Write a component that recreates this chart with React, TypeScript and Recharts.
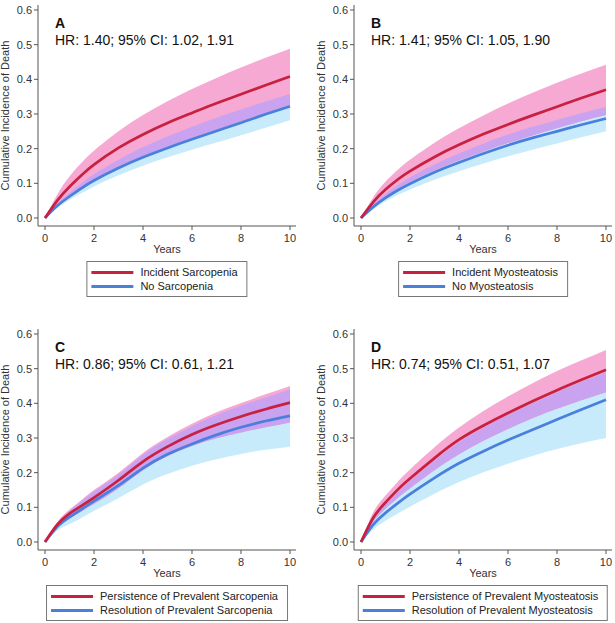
import React from "react";
import { ComposedChart, Area, Line, XAxis, YAxis, Label } from "recharts";

const FONT = '"Liberation Sans", Arial, sans-serif';
const RED = "#c8203f";
const BLUE = "#4a7fdc";
const PINK_BAND = "#f5a9d3";
const BLUE_BAND = "#c7ebfb";
const OVERLAP_BAND = "#c9a3ef";
const CURVE = "natural";

const YEARS = [0, 0.5, 1, 1.5, 2, 3, 4, 5, 6, 7, 8, 9, 10];
const X_TICKS = [0, 2, 4, 6, 8, 10];
const Y_TICKS = [0, 0.1, 0.2, 0.3, 0.4, 0.5, 0.6];

// A: incident sarcopenia
const A_RED = [0, 0.05, 0.09, 0.124, 0.154, 0.202, 0.241, 0.274, 0.303, 0.331, 0.357, 0.383, 0.408];
const A_RED_HI = [0, 0.068, 0.12, 0.16, 0.194, 0.25, 0.297, 0.337, 0.372, 0.404, 0.434, 0.462, 0.488];
const A_RED_LO = [0, 0.036, 0.064, 0.088, 0.11, 0.147, 0.178, 0.205, 0.23, 0.254, 0.278, 0.302, 0.325];
const A_BLUE = [0, 0.035, 0.062, 0.086, 0.108, 0.144, 0.175, 0.202, 0.227, 0.251, 0.275, 0.299, 0.322];
const A_BLUE_HI = [0, 0.041, 0.073, 0.101, 0.126, 0.168, 0.204, 0.235, 0.263, 0.289, 0.313, 0.336, 0.358];
const A_BLUE_LO = [0, 0.029, 0.052, 0.072, 0.091, 0.123, 0.151, 0.175, 0.197, 0.218, 0.239, 0.26, 0.282];

// B: incident myosteatosis
const B_RED = [0, 0.046, 0.082, 0.111, 0.135, 0.176, 0.211, 0.242, 0.27, 0.296, 0.321, 0.346, 0.37];
const B_RED_HI = [0, 0.06, 0.105, 0.139, 0.168, 0.217, 0.259, 0.296, 0.33, 0.361, 0.39, 0.417, 0.442];
const B_RED_LO = [0, 0.034, 0.061, 0.084, 0.104, 0.137, 0.166, 0.192, 0.216, 0.238, 0.259, 0.279, 0.297];
const B_BLUE = [0, 0.032, 0.058, 0.08, 0.099, 0.132, 0.16, 0.186, 0.21, 0.231, 0.25, 0.269, 0.287];
const B_BLUE_HI = [0, 0.038, 0.07, 0.095, 0.117, 0.154, 0.186, 0.215, 0.241, 0.263, 0.283, 0.302, 0.32];
const B_BLUE_LO = [0, 0.026, 0.048, 0.066, 0.082, 0.11, 0.135, 0.157, 0.178, 0.197, 0.215, 0.233, 0.25];

// C: prevalent sarcopenia
const C_RED = [0, 0.05, 0.082, 0.105, 0.128, 0.178, 0.232, 0.275, 0.31, 0.338, 0.362, 0.383, 0.402];
const C_RED_HI = [0, 0.058, 0.094, 0.122, 0.15, 0.2, 0.257, 0.303, 0.341, 0.374, 0.401, 0.426, 0.45];
const C_RED_LO = [0, 0.041, 0.068, 0.089, 0.11, 0.155, 0.207, 0.248, 0.277, 0.299, 0.316, 0.331, 0.345];
const C_BLUE = [0, 0.044, 0.072, 0.095, 0.118, 0.163, 0.213, 0.253, 0.283, 0.309, 0.331, 0.349, 0.364];
const C_BLUE_HI = [0, 0.055, 0.09, 0.118, 0.146, 0.195, 0.252, 0.297, 0.334, 0.366, 0.393, 0.417, 0.44];
const C_BLUE_LO = [0, 0.033, 0.052, 0.07, 0.09, 0.127, 0.166, 0.196, 0.22, 0.239, 0.254, 0.266, 0.275];

// D: prevalent myosteatosis
const D_RED = [0, 0.07, 0.114, 0.151, 0.183, 0.242, 0.295, 0.336, 0.372, 0.406, 0.438, 0.468, 0.497];
const D_RED_HI = [0, 0.086, 0.134, 0.174, 0.209, 0.273, 0.33, 0.378, 0.42, 0.458, 0.493, 0.524, 0.554];
const D_RED_LO = [0, 0.058, 0.096, 0.127, 0.155, 0.207, 0.253, 0.292, 0.326, 0.357, 0.384, 0.409, 0.432];
const D_BLUE = [0, 0.05, 0.084, 0.112, 0.138, 0.185, 0.227, 0.262, 0.294, 0.324, 0.353, 0.382, 0.41];
const D_BLUE_HI = [0, 0.066, 0.109, 0.144, 0.176, 0.235, 0.288, 0.33, 0.367, 0.4, 0.432, 0.462, 0.49];
const D_BLUE_LO = [0, 0.036, 0.061, 0.082, 0.102, 0.139, 0.173, 0.201, 0.226, 0.248, 0.268, 0.285, 0.3];

const PANELS = [
  {
    tag: "A", hr: "HR: 1.40; 95% CI: 1.02, 1.91",
    redName: "Incident Sarcopenia", blueName: "No Sarcopenia",
    red: A_RED, redHi: A_RED_HI, redLo: A_RED_LO, blue: A_BLUE, blueHi: A_BLUE_HI, blueLo: A_BLUE_LO,
    left: 0, top: 0,
  },
  {
    tag: "B", hr: "HR: 1.41; 95% CI: 1.05, 1.90",
    redName: "Incident Myosteatosis", blueName: "No Myosteatosis",
    red: B_RED, redHi: B_RED_HI, redLo: B_RED_LO, blue: B_BLUE, blueHi: B_BLUE_HI, blueLo: B_BLUE_LO,
    left: 316, top: 0,
  },
  {
    tag: "C", hr: "HR: 0.86; 95% CI: 0.61, 1.21",
    redName: "Persistence of Prevalent Sarcopenia", blueName: "Resolution of Prevalent Sarcopenia",
    red: C_RED, redHi: C_RED_HI, redLo: C_RED_LO, blue: C_BLUE, blueHi: C_BLUE_HI, blueLo: C_BLUE_LO,
    left: 0, top: 324,
  },
  {
    tag: "D", hr: "HR: 0.74; 95% CI: 0.51, 1.07",
    redName: "Persistence of Prevalent Myosteatosis", blueName: "Resolution of Prevalent Myosteatosis",
    red: D_RED, redHi: D_RED_HI, redLo: D_RED_LO, blue: D_BLUE, blueHi: D_BLUE_HI, blueLo: D_BLUE_LO,
    left: 316, top: 324,
  },
];

type Panel = (typeof PANELS)[number];

// overlap band = where the two CIs intersect (drawn lavender on top)
function buildRows(p: Panel) {
  return YEARS.map((year, i) => {
    const lo = Math.max(p.redLo[i], p.blueLo[i]);
    const hi = Math.min(p.redHi[i], p.blueHi[i]);
    return {
      year,
      red: p.red[i],
      blue: p.blue[i],
      redBand: [p.redLo[i], p.redHi[i]],
      blueBand: [p.blueLo[i], p.blueHi[i]],
      overlap: hi > lo ? [lo, hi] : [lo, lo],
    };
  });
}

const W = 299;
const H = 262;

function YTitle(props: any) {
  const vb = props.viewBox;
  const x = vb.x - 3;
  const y = vb.y + vb.height / 2;
  return (
    <text
      x={x}
      y={y}
      transform={`rotate(-90 ${x} ${y})`}
      textAnchor="middle"
      dominantBaseline="central"
      fontSize={11}
      fill="#333"
    >
      Cumulative Incidence of Death
    </text>
  );
}

function XTitle(props: any) {
  const vb = props.viewBox;
  return (
    <text
      x={vb.x + vb.width / 2}
      y={vb.y + 23}
      textAnchor="middle"
      dominantBaseline="central"
      fontSize={11}
      fill="#333"
    >
      Years
    </text>
  );
}

function LegendBox({ p }: { p: Panel }) {
  const row = (color: string, name: string) => (
    <div style={{ display: "flex", alignItems: "center", height: 14 }}>
      <span style={{ display: "inline-block", width: 42, height: 3, background: color, marginRight: 7 }} />
      <span>{name}</span>
    </div>
  );
  return (
    <div
      style={{
        position: "absolute",
        top: H - 1,
        left: 167,
        transform: "translateX(-50%)",
        border: "1px solid #777",
        padding: "3px 9px 3px 4px",
        fontSize: 11,
        color: "#222",
        whiteSpace: "nowrap",
        lineHeight: "14px",
        background: "#fff",
      }}
    >
      {row(RED, p.redName)}
      {row(BLUE, p.blueName)}
    </div>
  );
}

function PanelChart({ p }: { p: Panel }) {
  const rows = buildRows(p);
  return (
    <div style={{ position: "absolute", left: p.left, top: p.top, width: W, height: 299 }}>
      <ComposedChart width={W} height={H} data={rows} margin={{ top: 5, right: 3, left: 8, bottom: 0 }}>
        <XAxis
          dataKey="year"
          type="number"
          domain={[-0.286, 10.245]}
          ticks={X_TICKS}
          allowDataOverflow
          height={36}
          tickSize={4}
          tickMargin={4}
          stroke="#555"
          tick={{ fontSize: 11, fill: "#333" }}
        >
          <Label content={XTitle} />
        </XAxis>
        <YAxis
          type="number"
          domain={[-0.0231, 0.6144]}
          ticks={Y_TICKS}
          allowDataOverflow
          width={30}
          tickSize={4}
          tickMargin={2}
          stroke="#555"
          tick={{ fontSize: 11, fill: "#333" }}
          tickFormatter={(v: number) => v.toFixed(1)}
        >
          <Label content={YTitle} />
        </YAxis>
        <Area type={CURVE} dataKey="blueBand" stroke="none" fill={BLUE_BAND} fillOpacity={1} isAnimationActive={false} />
        <Area type={CURVE} dataKey="redBand" stroke="none" fill={PINK_BAND} fillOpacity={1} isAnimationActive={false} />
        <Area type={CURVE} dataKey="overlap" stroke="none" fill={OVERLAP_BAND} fillOpacity={1} isAnimationActive={false} />
        <Line type={CURVE} dataKey="blue" stroke={BLUE} strokeWidth={2.7} dot={false} isAnimationActive={false} />
        <Line type={CURVE} dataKey="red" stroke={RED} strokeWidth={2.7} dot={false} isAnimationActive={false} />
      </ComposedChart>
      <svg width={W} height={60} style={{ position: "absolute", left: 0, top: 0, pointerEvents: "none" }}>
        <text x={55} y={28} fontSize={14} fontWeight="bold" fill="#111">{p.tag}</text>
        <text x={55} y={45} fontSize={14} fill="#111">{p.hr}</text>
      </svg>
      <LegendBox p={p} />
    </div>
  );
}

export default function App() {
  return (
    <div
      style={{
        position: "absolute",
        left: 0,
        top: 0,
        width: 615,
        height: 623,
        background: "#fff",
        fontFamily: FONT,
        overflow: "hidden",
      }}
    >
      {PANELS.map((p) => (
        <PanelChart key={p.tag} p={p} />
      ))}
    </div>
  );
}
